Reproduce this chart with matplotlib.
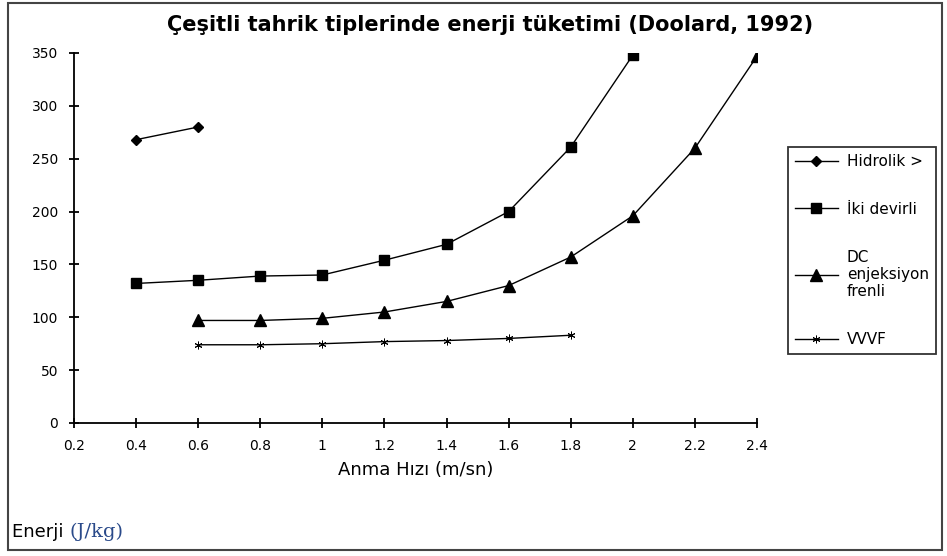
import matplotlib
matplotlib.use("Agg")
import matplotlib.pyplot as plt
from matplotlib.patches import Rectangle

plt.rcParams['font.family'] = ['DejaVu Sans']

title = "\u00c7e\u015fitli tahrik tiplerinde enerji t\u00fcketimi (Doolard, 1992)"
xlabel = "Anma H\u0131z\u0131 (m/sn)"

hidrolik_x = [0.4, 0.6]
hidrolik_y = [268, 280]

iki_x = [0.4, 0.6, 0.8, 1.0, 1.2, 1.4, 1.6, 1.8, 2.0]
iki_y = [132, 135, 139, 140, 154, 169, 200, 261, 348]

dc_x = [0.6, 0.8, 1.0, 1.2, 1.4, 1.6, 1.8, 2.0, 2.2, 2.4]
dc_y = [97, 97, 99, 105, 115, 130, 157, 196, 260, 347]

vvvf_x = [0.6, 0.8, 1.0, 1.2, 1.4, 1.6, 1.8]
vvvf_y = [74, 74, 75, 77, 78, 80, 83]

labels = ["Hidrolik >", "\u0130ki devirli", "DC\nenjeksiyon\nfrenli", "VVVF"]
xticks = [0.2, 0.4, 0.6, 0.8, 1.0, 1.2, 1.4, 1.6, 1.8, 2.0, 2.2, 2.4]
xticklabels = ["0.2", "0.4", "0.6", "0.8", "1", "1.2", "1.4", "1.6", "1.8", "2", "2.2", "2.4"]
yticks = [0, 50, 100, 150, 200, 250, 300, 350]

fig = plt.figure(figsize=(9.47, 5.56), dpi=100)
ax = fig.add_axes([74/947, 1-423/556, (757-74)/947, (423-53)/556])

ax.plot(hidrolik_x, hidrolik_y, color='black', lw=1.0, marker='D', ms=5, label=labels[0])
ax.plot(iki_x, iki_y, color='black', lw=1.0, marker='s', ms=7, label=labels[1])
ax.plot(dc_x, dc_y, color='black', lw=1.0, marker='^', ms=8, label=labels[2])
ax.plot(vvvf_x, vvvf_y, color='black', lw=1.0, marker=(6, 2, 0), ms=5.5, mew=0.7, label=labels[3])

ax.set_xlim(0.2, 2.4)
ax.set_ylim(0, 350)
ax.set_xticks(xticks)
ax.set_xticklabels(xticklabels)
ax.set_yticks(yticks)
for s in ['top', 'right']:
    ax.spines[s].set_visible(False)
for s in ['left', 'bottom']:
    ax.spines[s].set_linewidth(1.3)
ax.tick_params(direction='inout', length=7, width=1.3, labelsize=10, pad=8)
ax.set_xlabel(xlabel, fontsize=13, labelpad=6)

fig.text(490/947, 1-25/556, title, ha='center', va='center', fontsize=15, fontweight='bold')

t1 = fig.text(12/947, 1-537/556, "Enerji ", ha='left', va='baseline', fontsize=13)
ax.annotate("(J/kg)", xy=(1, 0), xycoords=t1, va='bottom', ha='left',
            fontsize=14, family='DejaVu Serif', color='#2a4a8a')

leg = fig.legend(loc='upper left', bbox_to_anchor=(788/947, 1-147/556),
                 frameon=True, fancybox=False, edgecolor='black', fontsize=11,
                 labelspacing=2.15, handlelength=2.8, handletextpad=0.6,
                 borderpad=0.45, borderaxespad=0)
leg.get_frame().set_linewidth(1.3)

fig.patches.append(Rectangle((8/947, 1-550/556), (942-8)/947, (550-3)/556,
                             transform=fig.transFigure, fill=False,
                             edgecolor='#444444', lw=1.5))

fig.savefig("out.png", dpi=100)
